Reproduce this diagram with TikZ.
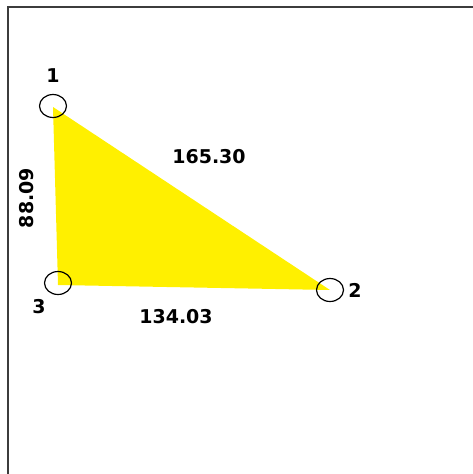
\documentclass[tikz,border=0pt]{standalone}
\usepackage{fontspec}
\setmainfont{DejaVu Sans}
\usetikzlibrary{positioning, shapes.geometric}
\definecolor{triyellow}{RGB}{255,240,0}
\definecolor{framegray}{RGB}{60,60,60}

\begin{document}
\begin{tikzpicture}[x=1pt, y=-1pt, node distance=10pt, vertex/.style={draw, ellipse, line width=1.2pt, minimum width=27pt, minimum height=23pt, inner sep=0pt}, lbl/.style={font=\fontsize{19}{19}\selectfont\bfseries, inner sep=0pt}]
      \useasboundingbox (0,0) rectangle (473,474);
      \draw[framegray, line width=2.4pt] (8,474) -- (8,7) -- (473,7);

      \coordinate (v1) at (53,107); \coordinate (v2) at (330,290);
      \coordinate (v3) at (58,285);
      \fill[triyellow] (v1) -- (v2) -- (v3) -- cycle;

      \node[vertex] (c1) at (53,106) {}; \node[vertex] (c2) at (330,290) {};
      \node[vertex] (c3) at (58,283) {};
      \node[lbl, above=11pt of c1] (n1) {1}; \node[lbl, right=4pt of c2]
      (n2) {2}; \node[lbl] (n3) at (39,307) {3};

      \node[lbl] (e12) at (209,157) {165.30}; \node[lbl] (e23) at (176,317)
      {134.03}; \node[lbl, rotate=90] (e13) at (27,198) {88.09};
    \end{tikzpicture}
\end{document}
